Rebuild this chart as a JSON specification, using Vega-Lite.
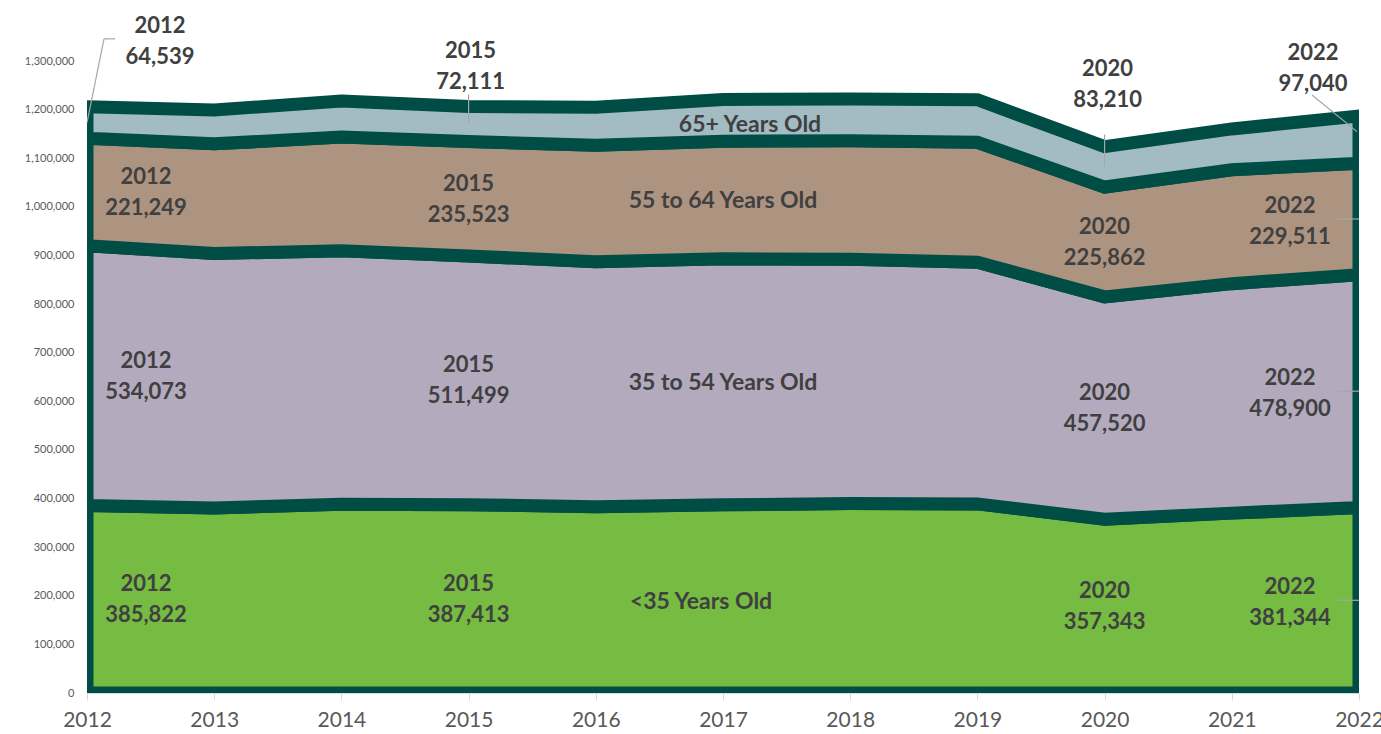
{
  "$schema": "https://vega.github.io/schema/vega-lite/v6.json",
  "width": 1272,
  "height": 632,
  "autosize": {"type": "none"},
  "padding": {"left": 87, "top": 61, "right": 22, "bottom": 41},
  "background": "white",
  "config": {"view": {"stroke": null}, "font": "Lato"},
  "data": {
    "values": [
      {"year": 2012, "age": "<35 Years Old", "value": 385822},
      {"year": 2013, "age": "<35 Years Old", "value": 380500},
      {"year": 2014, "age": "<35 Years Old", "value": 388500},
      {"year": 2015, "age": "<35 Years Old", "value": 387413},
      {"year": 2016, "age": "<35 Years Old", "value": 383000},
      {"year": 2017, "age": "<35 Years Old", "value": 387000},
      {"year": 2018, "age": "<35 Years Old", "value": 390000},
      {"year": 2019, "age": "<35 Years Old", "value": 389000},
      {"year": 2020, "age": "<35 Years Old", "value": 357343},
      {"year": 2021, "age": "<35 Years Old", "value": 370000},
      {"year": 2022, "age": "<35 Years Old", "value": 381344},
      {"year": 2012, "age": "35 to 54 Years Old", "value": 534073},
      {"year": 2013, "age": "35 to 54 Years Old", "value": 523400},
      {"year": 2014, "age": "35 to 54 Years Old", "value": 521300},
      {"year": 2015, "age": "35 to 54 Years Old", "value": 511499},
      {"year": 2016, "age": "35 to 54 Years Old", "value": 504000},
      {"year": 2017, "age": "35 to 54 Years Old", "value": 506000},
      {"year": 2018, "age": "35 to 54 Years Old", "value": 502000},
      {"year": 2019, "age": "35 to 54 Years Old", "value": 497000},
      {"year": 2020, "age": "35 to 54 Years Old", "value": 457520},
      {"year": 2021, "age": "35 to 54 Years Old", "value": 472000},
      {"year": 2022, "age": "35 to 54 Years Old", "value": 478900},
      {"year": 2012, "age": "55 to 64 Years Old", "value": 221249},
      {"year": 2013, "age": "55 to 64 Years Old", "value": 225700},
      {"year": 2014, "age": "55 to 64 Years Old", "value": 233700},
      {"year": 2015, "age": "55 to 64 Years Old", "value": 235523},
      {"year": 2016, "age": "55 to 64 Years Old", "value": 239500},
      {"year": 2017, "age": "55 to 64 Years Old", "value": 242000},
      {"year": 2018, "age": "55 to 64 Years Old", "value": 244000},
      {"year": 2019, "age": "55 to 64 Years Old", "value": 246800},
      {"year": 2020, "age": "55 to 64 Years Old", "value": 225862},
      {"year": 2021, "age": "55 to 64 Years Old", "value": 234400},
      {"year": 2022, "age": "55 to 64 Years Old", "value": 229511},
      {"year": 2012, "age": "65+ Years Old", "value": 64539},
      {"year": 2013, "age": "65+ Years Old", "value": 69400},
      {"year": 2014, "age": "65+ Years Old", "value": 74400},
      {"year": 2015, "age": "65+ Years Old", "value": 72111},
      {"year": 2016, "age": "65+ Years Old", "value": 78400},
      {"year": 2017, "age": "65+ Years Old", "value": 86000},
      {"year": 2018, "age": "65+ Years Old", "value": 86000},
      {"year": 2019, "age": "65+ Years Old", "value": 87500},
      {"year": 2020, "age": "65+ Years Old", "value": 83210},
      {"year": 2021, "age": "65+ Years Old", "value": 83900},
      {"year": 2022, "age": "65+ Years Old", "value": 97040}
    ]
  },
  "transform": [
    {"calculate": "indexof(['<35 Years Old','35 to 54 Years Old','55 to 64 Years Old','65+ Years Old'], datum.age)", "as": "ord"},
    {"stack": "value", "groupby": ["year"], "sort": [{"field": "ord", "order": "ascending"}], "as": ["y0", "y1"]},
    {"calculate": "(datum.y0 + datum.y1) / 2", "as": "mid"},
    {"calculate": "datum.year + '\\n' + format(datum.value, ',')", "as": "label"}
  ],
  "resolve": {"axis": {"y": "independent"}},
  "encoding": {
    "x": {
      "field": "year",
      "type": "quantitative",
      "scale": {"domain": [2012, 2022], "nice": false, "zero": false},
      "axis": {
        "values": [2012, 2013, 2014, 2015, 2016, 2017, 2018, 2019, 2020, 2021, 2022],
        "format": "d",
        "title": null,
        "grid": false,
        "domainColor": "#d9d9d9",
        "tickColor": "#d9d9d9",
        "tickSize": 7,
        "labelFontSize": 21,
        "labelColor": "#595959",
        "labelPadding": 9,
        "labelFlush": false,
        "labelOverlap": false,
        "labelBound": false
      }
    }
  },
  "layer": [
    {
      "mark": {"type": "area", "stroke": "#004d45", "strokeWidth": 13, "clip": true, "strokeJoin": "miter"},
      "encoding": {
        "y": {
          "field": "y1",
          "type": "quantitative",
          "scale": {"domain": [0, 1300000], "nice": false},
          "axis": {
            "values": [0, 100000, 200000, 300000, 400000, 500000, 600000, 700000, 800000, 900000, 1000000, 1100000, 1200000, 1300000],
            "labelExpr": "format(datum.value, ',')",
            "title": null,
            "grid": false,
            "domain": false,
            "ticks": false,
            "labelFontSize": 11,
            "labelColor": "#595959",
            "labelPadding": 13
          }
        },
        "y2": {"field": "y0"},
        "color": {
          "field": "age",
          "type": "nominal",
          "scale": {
            "domain": ["<35 Years Old", "35 to 54 Years Old", "55 to 64 Years Old", "65+ Years Old"],
            "range": ["#76bb42", "#b3aabe", "#ad9481", "#a3bcc4"]
          },
          "legend": null
        }
      }
    },
    {
      "transform": [{"filter": "datum.year == 2022 && datum.ord < 3"}],
      "mark": {"type": "rule", "color": "#a6a6a6", "strokeWidth": 1.2, "x2Offset": -22},
      "encoding": {
        "y": {"field": "mid", "type": "quantitative", "scale": {"domain": [0, 1300000], "nice": false}, "axis": null},
        "x2": {"field": "year"}
      }
    },
    {
      "transform": [{"filter": "datum.year == 2012 && datum.ord == 3"}],
      "mark": {"type": "rule", "color": "#a6a6a6", "strokeWidth": 1.2, "x2Offset": 17, "y2Offset": -68},
      "encoding": {
        "y": {"field": "mid", "type": "quantitative", "scale": {"domain": [0, 1300000], "nice": false}, "axis": null},
        "y2": {"field": "y1"},
        "x2": {"field": "year"}
      }
    },
    {
      "transform": [{"filter": "datum.year == 2012 && datum.ord == 3"}],
      "mark": {"type": "rule", "color": "#a6a6a6", "strokeWidth": 1.2, "xOffset": 17, "x2Offset": 28, "yOffset": -68},
      "encoding": {
        "y": {"field": "y1", "type": "quantitative", "scale": {"domain": [0, 1300000], "nice": false}, "axis": null},
        "x2": {"field": "year"}
      }
    },
    {
      "transform": [{"filter": "(datum.year == 2015 || datum.year == 2020) && datum.ord == 3"}],
      "mark": {"type": "rule", "color": "#a6a6a6", "strokeWidth": 1.2, "y2Offset": -12},
      "encoding": {
        "y": {"field": "mid", "type": "quantitative", "scale": {"domain": [0, 1300000], "nice": false}, "axis": null},
        "y2": {"field": "y1"}
      }
    },
    {
      "transform": [{"filter": "datum.year == 2022 && datum.ord == 3"}],
      "mark": {"type": "rule", "color": "#a6a6a6", "strokeWidth": 1.2, "xOffset": -2, "yOffset": -8, "x2Offset": -47, "y2Offset": -21},
      "encoding": {
        "y": {"field": "mid", "type": "quantitative", "scale": {"domain": [0, 1300000], "nice": false}, "axis": null},
        "y2": {"field": "y1"},
        "x2": {"field": "year"}
      }
    },
    {
      "transform": [{"filter": "datum.year == 2012 && datum.ord < 3"}],
      "mark": {"type": "text", "fontSize": 22, "fontWeight": "bold", "color": "#404040", "lineBreak": "\n", "lineHeight": 31, "align": "center", "baseline": "middle", "dx": 59, "dy": -15},
      "encoding": {
        "y": {"field": "mid", "type": "quantitative", "scale": {"domain": [0, 1300000], "nice": false}, "axis": null},
        "text": {"field": "label"}
      }
    },
    {
      "transform": [{"filter": "(datum.year == 2015 || datum.year == 2020) && datum.ord < 3"}],
      "mark": {"type": "text", "fontSize": 22, "fontWeight": "bold", "color": "#404040", "lineBreak": "\n", "lineHeight": 31, "align": "center", "baseline": "middle", "dy": -15},
      "encoding": {
        "y": {"field": "mid", "type": "quantitative", "scale": {"domain": [0, 1300000], "nice": false}, "axis": null},
        "text": {"field": "label"}
      }
    },
    {
      "transform": [{"filter": "datum.year == 2022 && datum.ord < 3"}],
      "mark": {"type": "text", "fontSize": 22, "fontWeight": "bold", "color": "#404040", "lineBreak": "\n", "lineHeight": 31, "align": "center", "baseline": "middle", "dx": -69, "dy": -13},
      "encoding": {
        "y": {"field": "mid", "type": "quantitative", "scale": {"domain": [0, 1300000], "nice": false}, "axis": null},
        "text": {"field": "label"}
      }
    },
    {
      "transform": [{"filter": "datum.year == 2012 && datum.ord == 3"}],
      "mark": {"type": "text", "fontSize": 22, "fontWeight": "bold", "color": "#404040", "lineBreak": "\n", "lineHeight": 31, "align": "center", "baseline": "middle", "dx": 73, "dy": -81},
      "encoding": {
        "y": {"field": "y1", "type": "quantitative", "scale": {"domain": [0, 1300000], "nice": false}, "axis": null},
        "text": {"field": "label"}
      }
    },
    {
      "transform": [{"filter": "datum.year == 2015 && datum.ord == 3"}],
      "mark": {"type": "text", "fontSize": 22, "fontWeight": "bold", "color": "#404040", "lineBreak": "\n", "lineHeight": 31, "align": "center", "baseline": "middle", "dx": 2, "dy": -55},
      "encoding": {
        "y": {"field": "y1", "type": "quantitative", "scale": {"domain": [0, 1300000], "nice": false}, "axis": null},
        "text": {"field": "label"}
      }
    },
    {
      "transform": [{"filter": "datum.year == 2020 && datum.ord == 3"}],
      "mark": {"type": "text", "fontSize": 22, "fontWeight": "bold", "color": "#404040", "lineBreak": "\n", "lineHeight": 31, "align": "center", "baseline": "middle", "dx": 3, "dy": -78},
      "encoding": {
        "y": {"field": "y1", "type": "quantitative", "scale": {"domain": [0, 1300000], "nice": false}, "axis": null},
        "text": {"field": "label"}
      }
    },
    {
      "transform": [{"filter": "datum.year == 2022 && datum.ord == 3"}],
      "mark": {"type": "text", "fontSize": 22, "fontWeight": "bold", "color": "#404040", "lineBreak": "\n", "lineHeight": 31, "align": "center", "baseline": "middle", "dx": -46, "dy": -63},
      "encoding": {
        "y": {"field": "y1", "type": "quantitative", "scale": {"domain": [0, 1300000], "nice": false}, "axis": null},
        "text": {"field": "label"}
      }
    },
    {
      "transform": [{"filter": "datum.year == 2017 && (datum.ord == 1 || datum.ord == 2)"}],
      "mark": {"type": "text", "fontSize": 23, "fontWeight": "bold", "color": "#404040", "align": "center", "baseline": "middle", "dy": 1},
      "encoding": {
        "y": {"field": "mid", "type": "quantitative", "scale": {"domain": [0, 1300000], "nice": false}, "axis": null},
        "text": {"field": "age"}
      }
    },
    {
      "transform": [{"filter": "datum.year == 2017 && datum.ord == 0"}],
      "mark": {"type": "text", "fontSize": 23, "fontWeight": "bold", "color": "#404040", "align": "center", "baseline": "middle", "dx": -22, "dy": 3},
      "encoding": {
        "y": {"field": "mid", "type": "quantitative", "scale": {"domain": [0, 1300000], "nice": false}, "axis": null},
        "text": {"field": "age"}
      }
    },
    {
      "transform": [{"filter": "datum.year == 2017 && datum.ord == 3"}],
      "mark": {"type": "text", "fontSize": 23, "fontWeight": "bold", "color": "#404040", "align": "center", "baseline": "middle", "dx": 27, "dy": 5},
      "encoding": {
        "y": {"field": "mid", "type": "quantitative", "scale": {"domain": [0, 1300000], "nice": false}, "axis": null},
        "text": {"field": "age"}
      }
    }
  ]
}
